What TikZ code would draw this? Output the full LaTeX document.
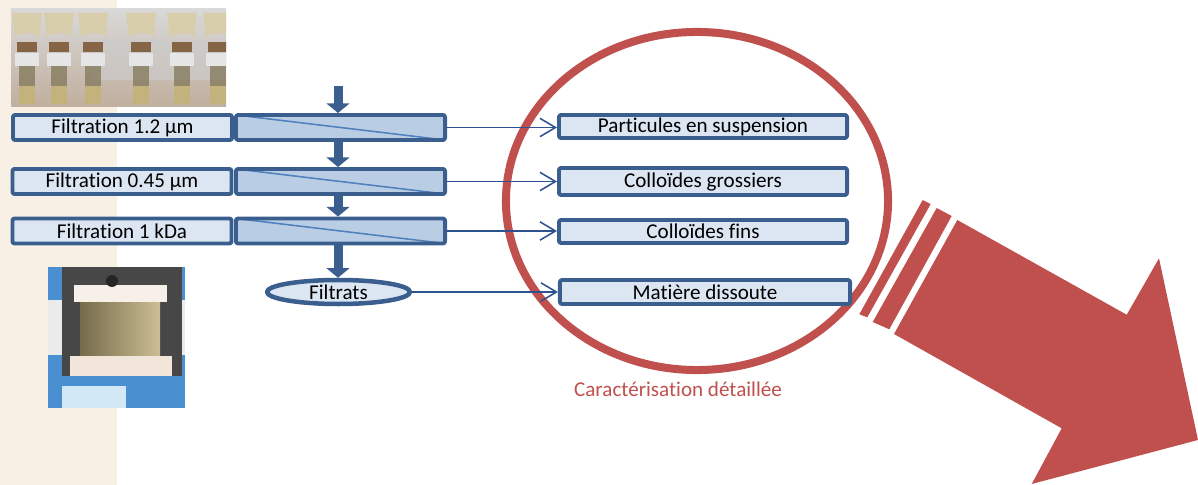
\documentclass[tikz,border=0pt]{standalone}
\usepackage{fontspec}
\setmainfont{Carlito}[Ligatures=NoCommon]
\usetikzlibrary{arrows.meta,shapes.geometric}
\definecolor{boxblue}{HTML}{3A5F8E}
\definecolor{lightfill}{HTML}{DCE6F2}
\definecolor{midfill}{HTML}{B9CDE5}
\definecolor{diagblue}{HTML}{4F81BD}
\definecolor{arrowblue}{HTML}{2E528F}
\definecolor{redc}{HTML}{C0504D}
\definecolor{beige}{HTML}{F8F0E4}
\definecolor{benchblue}{HTML}{4A8FCF}
\definecolor{liquid}{HTML}{C9B77E}
\begin{document}
\begin{tikzpicture}[x=0.025cm,y=-0.025cm,line join=round,font=\fontsize{15}{18}\selectfont]
	\tikzset{filt/.style={draw=boxblue,line width=2.8pt,fill=lightfill,rounded corners=1.5pt,inner sep=0pt,minimum width=5.475cm,minimum height=0.625cm},
		mem/.style={filt,fill=midfill,minimum width=5.225cm,path picture={\draw[diagblue,line width=1.1pt] (path picture bounding box.north west)--(path picture bounding box.south east);}},
		frac/.style={filt,minimum width=7.2cm},
		vflow/.style={boxblue,line width=6.4pt,-{Triangle[width=16pt,length=6.8pt]}},
		hflow/.style={arrowblue,line width=1.1pt,-{Straight Barb[length=11pt,width=13pt,line width=1.1pt]}}}
	\useasboundingbox (0,0) rectangle (1198,485);
	\fill[beige] (0,0) rectangle (117,485);
	% photos
	\begin{scope}
		\clip (11,9) rectangle (226,107);
		\shade[top color=black!15,bottom color=black!40!brown!45] (11,9) rectangle (226,107);
		\fill[white!80!black,opacity=0.6] (90,40) rectangle (226,80);
		\foreach \c in {27,59,93,141,182,218}{
			\fill[liquid!70!white,opacity=0.85] (\c-15,13)--(\c+15,13)--(\c+12,38) arc (180:360:-12 and 5)--cycle;
			\fill[brown!60!black,opacity=0.8] (\c-10,42) rectangle (\c+10,52);
			\fill[white!90!black] (\c-12,53) rectangle (\c+12,66);
			\fill[liquid!60!black!90,opacity=0.8] (\c-8,66) rectangle (\c+8,104);
			\fill[liquid,opacity=0.9] (\c-8,86) rectangle (\c+8,104);
		}
	\end{scope}
	\begin{scope}
		\clip (48,267) rectangle (185,408);
		\fill[benchblue] (48,267) rectangle (185,408);
		\fill[black!8] (48,300) rectangle (185,355);
		\fill[black!72] (62,267) rectangle (182,378);
		\fill[white!88!brown] (74,285) rectangle (167,302);
		\fill[black!85] (112,281) circle (6);
		\shade[left color=liquid!60!black,right color=liquid!80!white,opacity=0.95] (80,302) rectangle (160,358);
		\fill[white!80!brown] (70,356) rectangle (172,376);
		\fill[benchblue] (48,376) rectangle (185,408);
		\fill[cyan!8!white,opacity=0.85] (62,386) rectangle (126,408);
	\end{scope}
	\draw[redc,line width=5.7pt] (697,201) ellipse [x radius=4.775cm,y radius=4.225cm];
	\node[text=redc] (cap) at (678,389) {Caractérisation détaillée};
	\node[mem] (m1) at (340.5,127.5) {};
	\node[mem] (m2) at (340.5,181.5) {};
	\node[mem] (m3) at (340.5,231) {};
	\node[filt] (f1) at (122.5,127.5) {Filtration 1.2 µm};
	\node[filt] (f2) at (122,181.5) {Filtration 0.45 µm};
	\node[filt] (f3) at (122,231) {Filtration 1 kDa};
	\node[filt,ellipse,line width=3.2pt,minimum width=3.575cm,minimum height=0.6cm] (e) at (338.5,292) {Filtrats};
	\node[frac,minimum height=0.575cm] (r1) at (703,126.5) {Particules en suspension};
	\node[frac,minimum height=0.675cm] (r2) at (703,181.5) {Colloïdes grossiers};
	\node[frac,minimum height=0.575cm] (r3) at (703,231.5) {Colloïdes fins};
	\node[frac,minimum width=7.25cm,minimum height=0.6cm] (r4) at (705,292) {Matière dissoute};
	\coordinate (in) at (338,86);
	\draw[vflow] (in)--(in |- m1.north);
	\draw[vflow] (m1.south -| in)--(m2.north -| in);
	\draw[vflow] (m2.south -| in)--(m3.north -| in);
	\draw[vflow] (m3.south -| in)--(e.north -| in);
	\draw[hflow] (m1.east)--(m1.east -| r1.west);
	\draw[hflow] (m2.east)--(m2.east -| r2.west);
	\draw[hflow] (m3.east)--(m3.east -| r3.west);
	\draw[hflow] (e.east)--(e.east -| r4.west);
	% big arrow
	\fill[redc] (922.7,200)--(930.7,204)--(867.3,317.3)--(859.3,314.3)--cycle;
	\fill[redc] (936.7,208)--(951.7,216)--(889.3,329.3)--(872.7,322)--cycle;
	\fill[redc] (957.3,220)--(1126.7,314.7)--(1159,258.3)--(1198,440)--(1031.7,484)--(1061.7,428.3)--(894,334)--cycle;
\end{tikzpicture}
\end{document}
